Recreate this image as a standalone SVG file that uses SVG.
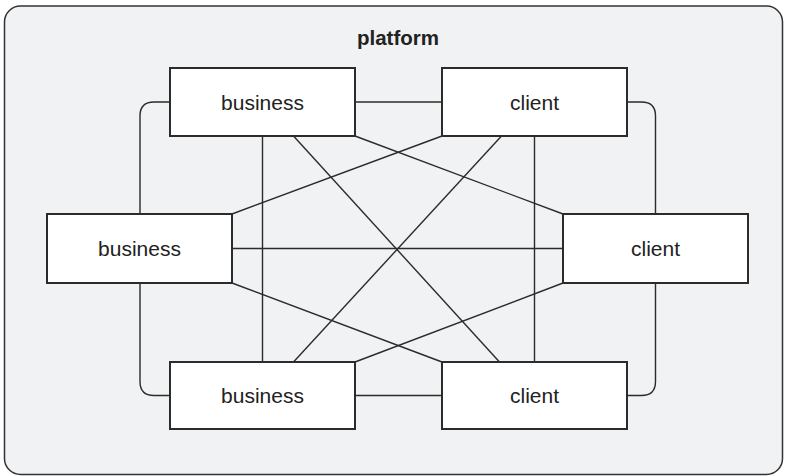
<svg xmlns="http://www.w3.org/2000/svg" width="785" height="476" viewBox="0 0 785 476">
  <style>
    .frame { fill: #f1f2f4; stroke: #333; stroke-width: 1.5; }
    .node rect { fill: #ffffff; stroke: #2b2b2b; stroke-width: 2; }
    .node text, .title { font-family: "Liberation Sans", Arial, Helvetica, sans-serif; fill: #222; text-anchor: middle; }
    .node text { font-size: 21px; }
    .title { font-size: 20.5px; font-weight: bold; }
    .links path, .links line { fill: none; stroke: #2b2b2b; stroke-width: 1.4; }
  </style>

  <!-- platform container -->
  <rect class="frame" x="4.5" y="6" width="778" height="468.5" rx="16" ry="16"/>
  <text class="title" x="398" y="45">platform</text>

  <!-- connectors -->
  <g id="connectors" class="links">
    <!-- horizontal links -->
    <line x1="355" y1="102" x2="442" y2="102"/>
    <line x1="232" y1="248.5" x2="563" y2="248.5"/>
    <line x1="355" y1="395.5" x2="442" y2="395.5"/>
    <!-- vertical links -->
    <line x1="262.5" y1="136" x2="262.5" y2="362"/>
    <line x1="534.5" y1="136" x2="534.5" y2="362"/>
    <!-- rounded outer loops -->
    <path d="M170 102 H154 Q140 102 140 116 V214"/>
    <path d="M140 283 V381.5 Q140 395.5 154 395.5 H170"/>
    <path d="M627 102 H641.5 Q655.5 102 655.5 116 V214"/>
    <path d="M655.5 283 V381.5 Q655.5 395.5 641.5 395.5 H627"/>
    <!-- diagonals -->
    <line x1="355" y1="136" x2="563" y2="214"/>
    <line x1="232" y1="214" x2="442" y2="136"/>
    <line x1="232" y1="283" x2="442" y2="362"/>
    <line x1="355" y1="362" x2="563" y2="283"/>
    <line x1="293.5" y1="136" x2="499.5" y2="362"/>
    <line x1="501.5" y1="136" x2="293.5" y2="362"/>
  </g>

  <!-- nodes -->
  <g id="business-top" class="node">
    <rect x="170" y="68" width="185" height="68"/>
    <text x="262.5" y="109.5">business</text>
  </g>
  <g id="client-top" class="node">
    <rect x="442" y="68" width="185" height="68"/>
    <text x="534.5" y="109.5">client</text>
  </g>
  <g id="business-left" class="node">
    <rect x="47" y="214" width="185" height="69"/>
    <text x="139.5" y="255.5">business</text>
  </g>
  <g id="client-right" class="node">
    <rect x="563" y="214" width="185" height="69"/>
    <text x="655.5" y="255.5">client</text>
  </g>
  <g id="business-bottom" class="node">
    <rect x="170" y="362" width="185" height="67"/>
    <text x="262.5" y="402.5">business</text>
  </g>
  <g id="client-bottom" class="node">
    <rect x="442" y="362" width="185" height="67"/>
    <text x="534.5" y="402.5">client</text>
  </g>
</svg>
